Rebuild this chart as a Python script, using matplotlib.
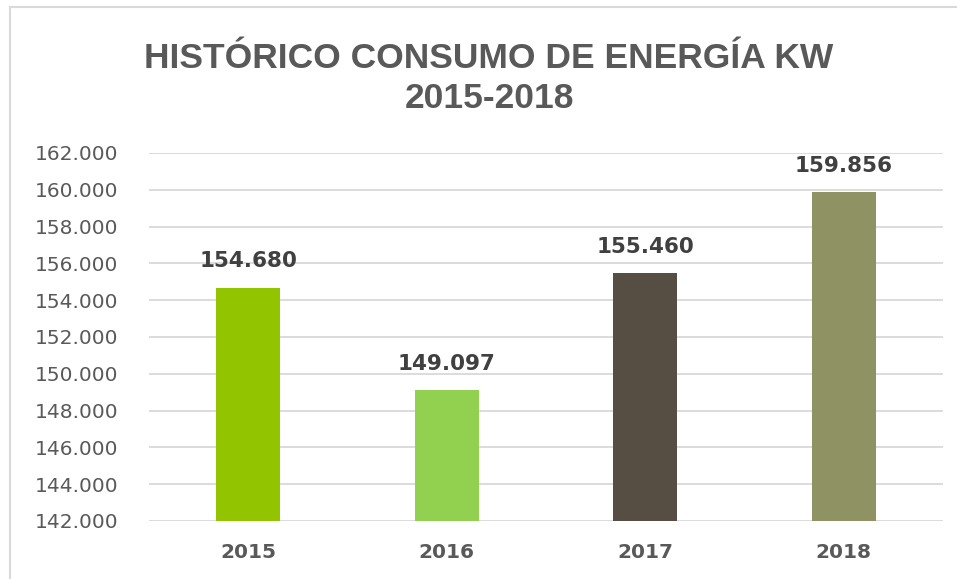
import matplotlib.pyplot as plt
from matplotlib.patches import Rectangle

years = ['2015', '2016', '2017', '2018']
consumo = [154680, 149097, 155460, 159856]
etiquetas = ['154.680', '149.097', '155.460', '159.856']
colores = ['#92C500', '#92D050', '#564E42', '#8F9263']
ticks = list(range(142000, 162001, 2000))

fig = plt.figure(figsize=(9.57, 5.79), dpi=100)
fig.patches.append(Rectangle((10 / 957, -0.1), 1.2, 1 - 7 / 579 + 0.1,
                             transform=fig.transFigure, fill=False,
                             edgecolor='#D9D9D9', linewidth=1.5))

ax = fig.add_axes([149 / 957, 1 - 521 / 579, 794 / 957, 368 / 579])
x = range(len(years))
ax.bar(x, [v - 142000 for v in consumo], bottom=142000, width=0.32,
       color=colores, zorder=3)

for i, v in enumerate(consumo):
    ax.text(i, v + 900, etiquetas[i], ha='center', va='bottom',
            fontsize=15.5, fontweight='bold', color='#404040')

ax.set_ylim(142000, 162000)
ax.set_xlim(-0.5, 3.5)
ax.set_yticks(ticks)
ax.set_yticklabels([f'{t:,}'.replace(',', '.') for t in ticks],
                   fontsize=14.5, color='#595959')
ax.set_xticks(list(x))
ax.set_xticklabels(years, fontsize=14.5, fontweight='bold', color='#595959')
ax.tick_params(length=0)
ax.tick_params(axis='y', pad=22)
ax.tick_params(axis='x', pad=16)
ax.grid(axis='y', color='#D9D9D9', linewidth=1.3, zorder=0)
for s in ax.spines.values():
    s.set_visible(False)

# titulo
fig.text(489 / 957, 1 - 58 / 579, 'HISTÓRICO CONSUMO DE ENERGÍA KW',
         ha='center', va='center', fontsize=25.5, fontweight='bold',
         color='#595959', family='Liberation Sans')
fig.text(489 / 957, 1 - 98 / 579, '2015-2018', ha='center', va='center',
         fontsize=25.5, fontweight='bold', color='#595959',
         family='Liberation Sans')

fig.savefig('out.png', dpi=100)
